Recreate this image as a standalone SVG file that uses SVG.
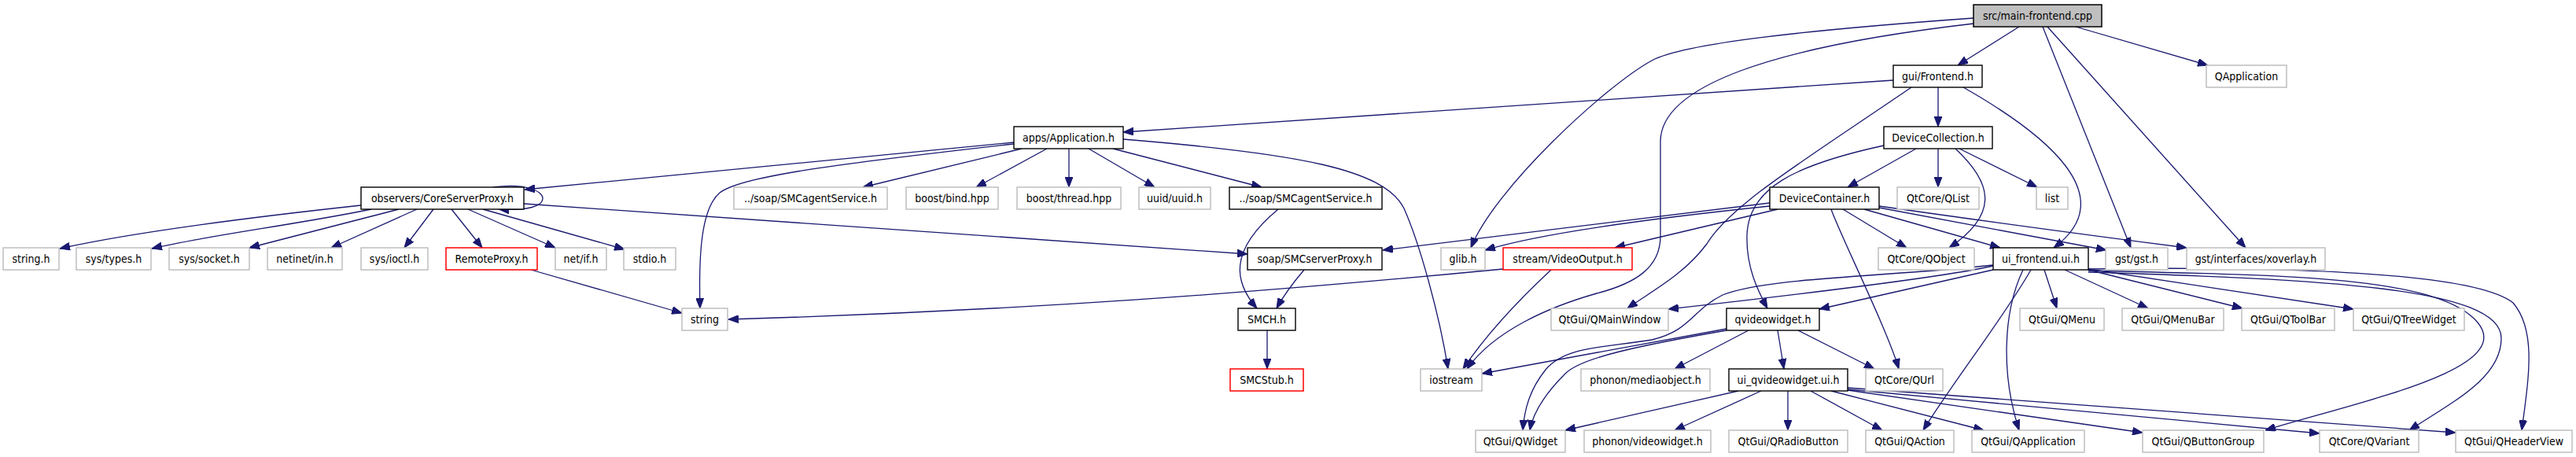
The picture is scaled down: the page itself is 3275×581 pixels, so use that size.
<svg xmlns="http://www.w3.org/2000/svg" width="3275" height="581" viewBox="0 0 3275 581">
<style>
rect{fill:#fff;stroke:#000;stroke-width:1.4}
.g rect{stroke:#bfbfbf;stroke-width:1.5}
.r rect{stroke:#ff0000;stroke-width:1.5}
.m rect{fill:#bfbfbf;stroke:#000;stroke-width:1.5}
text{font-family:"DejaVu Sans Condensed","Liberation Sans",Arial,sans-serif;font-size:14px;fill:#000;text-anchor:middle}
#edges path{fill:none;stroke:#191970;stroke-width:1.3;marker-end:url(#a)}
</style>
<defs>
<marker id="a" viewBox="0 0 13 10" refX="13" refY="5" markerWidth="13" markerHeight="10" markerUnits="userSpaceOnUse" orient="auto"><path d="M0,0 L13,5 L0,10 z" fill="#191970" stroke="#191970"/></marker>
</defs>
<rect x="0" y="0" width="3275" height="581" style="fill:#fff;stroke:none"/>
<g id="edges">
<path d="M2567,34 L2489,83"/>
<path d="M2639,34 L2807,83"/>
<path d="M2597,34 L2709,315"/>
<path d="M2603,34 L2855,315"/>
<path d="M2509,23 C2300,38 2140,55 2100,77 C2040,110 1900,240 1870,315"/>
<path d="M2509,30 C2250,60 2111,110 2111,180 L2111,300 C2111,340 2080,360 2030,373 C1970,390 1900,420 1865,469"/>
<path d="M2407,102 L1428,168"/>
<path d="M2464,111 L2464,161"/>
<path d="M2430,111 C2300,200 2200,260 2170,310 C2140,350 2100,370 2069,392"/>
<path d="M2496,111 C2600,170 2700,250 2611,315"/>
<path d="M2436,189 L2349,238"/>
<path d="M2464,189 L2464,238"/>
<path d="M2491,189 L2590,238"/>
<path d="M2486,189 C2530,230 2545,270 2478,315"/>
<path d="M2395,185 C2280,210 2222,240 2221,300 C2220,340 2235,370 2247,392"/>
<path d="M2250,258 L1758,318"/>
<path d="M2250,262 Q1980,290 1888,318"/>
<path d="M2260,266 L2053,315"/>
<path d="M2343,266 L2424,315"/>
<path d="M2328,266 C2340,300 2400,420 2414,469"/>
<path d="M2370,266 L2543,315"/>
<path d="M2389,264 L2678,318"/>
<path d="M2389,262 Q2600,292 2780,315"/>
<path d="M1911,342 C1600,372 1300,395 926,406"/>
<path d="M1972,343 Q1900,410 1860,469"/>
<path d="M459,261 C330,275 170,295 76,316"/>
<path d="M472,266 C380,285 260,300 193,316"/>
<path d="M507,266 L317,315"/>
<path d="M530,266 L421,315"/>
<path d="M551,266 L514,315"/>
<path d="M574,266 L613,315"/>
<path d="M595,266 L706,315"/>
<path d="M614,266 L794,317"/>
<path d="M627,238 C670,232 690,244 690,252 C690,262 672,268 634,266"/>
<path d="M666,259 L1586,323"/>
<path d="M1289,181 L667,241"/>
<path d="M1289,183 C1050,210 940,225 915,245 C892,265 888,320 890,392"/>
<path d="M1299,189 L1097,238"/>
<path d="M1331,189 L1241,238"/>
<path d="M1359,189 L1359,238"/>
<path d="M1384,189 L1468,238"/>
<path d="M1415,189 L1604,238"/>
<path d="M1428,177 C1650,195 1760,215 1785,265 C1805,310 1830,400 1841,469"/>
<path d="M1625,266 C1560,320 1570,360 1598,392"/>
<path d="M1658,343 Q1635,370 1623,392"/>
<path d="M1611,420 L1611,469"/>
<path d="M675,343 L867,398"/>
<path d="M2195,418 L1884,475"/>
<path d="M2195,420 C2080,440 2010,455 1990,475 C1960,505 1948,530 1945,547"/>
<path d="M2223,420 L2129,469"/>
<path d="M2260,420 L2268,469"/>
<path d="M2286,420 L2383,469"/>
<path d="M2534,338 Q2460,355 2121,393"/>
<path d="M2534,343 L2313,393"/>
<path d="M2534,337 C2400,352 2250,352 2190,375 C2150,395 2150,420 2100,432 C2040,442 1990,440 1965,470 C1945,495 1938,520 1936,547"/>
<path d="M2599,343 L2615,392"/>
<path d="M2625,343 L2731,392"/>
<path d="M2655,343 L2851,392"/>
<path d="M2655,342 L2992,393"/>
<path d="M2582,343 C2550,400 2480,490 2445,547"/>
<path d="M2572,343 C2545,400 2545,480 2567,547"/>
<path d="M2655,344 C2900,350 3100,350 3150,410 C3200,470 3000,510 2880,547"/>
<path d="M2655,346 C2950,355 3180,365 3180,430 C3180,480 3120,510 3063,547"/>
<path d="M2655,342 C2950,338 3150,350 3195,385 C3225,420 3215,480 3206,547"/>
<path d="M2210,497 L1990,547"/>
<path d="M2239,497 L2129,547"/>
<path d="M2273,497 L2273,547"/>
<path d="M2302,497 L2393,547"/>
<path d="M2328,497 L2522,547"/>
<path d="M2349,496 L2724,550"/>
<path d="M2349,495 L2949,551"/>
<path d="M2349,493 L3122,550"/>
</g>
<g id="n_main" class="m"><rect x="2509" y="6" width="163" height="28"/><text x="2590.5" y="25">src/main-frontend.cpp</text></g>
<g id="n_frontend"><rect x="2407" y="83" width="113" height="28"/><text x="2463.5" y="102">gui/Frontend.h</text></g>
<g id="n_qapplication" class="g"><rect x="2805" y="83" width="102" height="28"/><text x="2856" y="102">QApplication</text></g>
<g id="n_application"><rect x="1289" y="161" width="139" height="28"/><text x="1358.5" y="180">apps/Application.h</text></g>
<g id="n_devcollection"><rect x="2395" y="161" width="138" height="28"/><text x="2464" y="180">DeviceCollection.h</text></g>
<g id="n_coreserverproxy"><rect x="459" y="238" width="207" height="28"/><text x="562.5" y="257">observers/CoreServerProxy.h</text></g>
<g id="n_smcagent_g" class="g"><rect x="933" y="238" width="195" height="28"/><text x="1030.5" y="257">../soap/SMCagentService.h</text></g>
<g id="n_bind" class="g"><rect x="1152" y="238" width="117" height="28"/><text x="1210.5" y="257">boost/bind.hpp</text></g>
<g id="n_thread" class="g"><rect x="1293" y="238" width="132" height="28"/><text x="1359" y="257">boost/thread.hpp</text></g>
<g id="n_uuid" class="g"><rect x="1448" y="238" width="91" height="28"/><text x="1493.5" y="257">uuid/uuid.h</text></g>
<g id="n_smcagent"><rect x="1563" y="238" width="194" height="28"/><text x="1660" y="257">../soap/SMCagentService.h</text></g>
<g id="n_devcontainer"><rect x="2250" y="238" width="139" height="28"/><text x="2319.5" y="257">DeviceContainer.h</text></g>
<g id="n_qlist" class="g"><rect x="2412" y="238" width="104" height="28"/><text x="2464" y="257">QtCore/QList</text></g>
<g id="n_list" class="g"><rect x="2589" y="238" width="40" height="28"/><text x="2609" y="257">list</text></g>
<g id="n_stringh" class="g"><rect x="4" y="315" width="71" height="28"/><text x="39.5" y="334">string.h</text></g>
<g id="n_systypes" class="g"><rect x="97" y="315" width="95" height="28"/><text x="144.5" y="334">sys/types.h</text></g>
<g id="n_syssocket" class="g"><rect x="215" y="315" width="102" height="28"/><text x="266" y="334">sys/socket.h</text></g>
<g id="n_netinet" class="g"><rect x="340" y="315" width="95" height="28"/><text x="387.5" y="334">netinet/in.h</text></g>
<g id="n_sysioctl" class="g"><rect x="459" y="315" width="85" height="28"/><text x="501.5" y="334">sys/ioctl.h</text></g>
<g id="n_remoteproxy" class="r"><rect x="567" y="315" width="116" height="28"/><text x="625" y="334">RemoteProxy.h</text></g>
<g id="n_netif" class="g"><rect x="706" y="315" width="65" height="28"/><text x="738.5" y="334">net/if.h</text></g>
<g id="n_stdio" class="g"><rect x="793" y="315" width="66" height="28"/><text x="826" y="334">stdio.h</text></g>
<g id="n_smcserverproxy"><rect x="1586" y="315" width="171" height="28"/><text x="1671.5" y="334">soap/SMCserverProxy.h</text></g>
<g id="n_glib" class="g"><rect x="1832" y="315" width="56" height="28"/><text x="1860" y="334">glib.h</text></g>
<g id="n_videooutput" class="r"><rect x="1911" y="315" width="164" height="28"/><text x="1993" y="334">stream/VideoOutput.h</text></g>
<g id="n_qobject" class="g"><rect x="2388" y="315" width="122" height="28"/><text x="2449" y="334">QtCore/QObject</text></g>
<g id="n_uifrontend"><rect x="2534" y="315" width="121" height="28"/><text x="2594.5" y="334">ui_frontend.ui.h</text></g>
<g id="n_gst" class="g"><rect x="2677" y="315" width="79" height="28"/><text x="2716.5" y="334">gst/gst.h</text></g>
<g id="n_xoverlay" class="g"><rect x="2780" y="315" width="176" height="28"/><text x="2868" y="334">gst/interfaces/xoverlay.h</text></g>
<g id="n_string" class="g"><rect x="867" y="392" width="58" height="28"/><text x="896" y="411">string</text></g>
<g id="n_smch"><rect x="1574" y="392" width="73" height="28"/><text x="1610.5" y="411">SMCH.h</text></g>
<g id="n_qmainwindow" class="g"><rect x="1972" y="392" width="149" height="28"/><text x="2046.5" y="411">QtGui/QMainWindow</text></g>
<g id="n_qvideowidget"><rect x="2195" y="392" width="118" height="28"/><text x="2254" y="411">qvideowidget.h</text></g>
<g id="n_qmenu" class="g"><rect x="2568" y="392" width="107" height="28"/><text x="2621.5" y="411">QtGui/QMenu</text></g>
<g id="n_qmenubar" class="g"><rect x="2698" y="392" width="129" height="28"/><text x="2762.5" y="411">QtGui/QMenuBar</text></g>
<g id="n_qtoolbar" class="g"><rect x="2850" y="392" width="118" height="28"/><text x="2909" y="411">QtGui/QToolBar</text></g>
<g id="n_qtreewidget" class="g"><rect x="2992" y="392" width="141" height="28"/><text x="3062.5" y="411">QtGui/QTreeWidget</text></g>
<g id="n_smcstub" class="r"><rect x="1564" y="469" width="93" height="28"/><text x="1610.5" y="488">SMCStub.h</text></g>
<g id="n_iostream" class="g"><rect x="1806" y="469" width="78" height="28"/><text x="1845" y="488">iostream</text></g>
<g id="n_mediaobject" class="g"><rect x="2010" y="469" width="164" height="28"/><text x="2092" y="488">phonon/mediaobject.h</text></g>
<g id="n_uiqvideowidget"><rect x="2198" y="469" width="151" height="28"/><text x="2273.5" y="488">ui_qvideowidget.ui.h</text></g>
<g id="n_qurl" class="g"><rect x="2372" y="469" width="98" height="28"/><text x="2421" y="488">QtCore/QUrl</text></g>
<g id="n_qwidget" class="g"><rect x="1876" y="547" width="114" height="28"/><text x="1933" y="566">QtGui/QWidget</text></g>
<g id="n_videowidget" class="g"><rect x="2014" y="547" width="161" height="28"/><text x="2094.5" y="566">phonon/videowidget.h</text></g>
<g id="n_qradiobutton" class="g"><rect x="2198" y="547" width="151" height="28"/><text x="2273.5" y="566">QtGui/QRadioButton</text></g>
<g id="n_qaction" class="g"><rect x="2372" y="547" width="112" height="28"/><text x="2428" y="566">QtGui/QAction</text></g>
<g id="n_qtguiqapplication" class="g"><rect x="2507" y="547" width="143" height="28"/><text x="2578.5" y="566">QtGui/QApplication</text></g>
<g id="n_qbuttongroup" class="g"><rect x="2724" y="547" width="154" height="28"/><text x="2801" y="566">QtGui/QButtonGroup</text></g>
<g id="n_qvariant" class="g"><rect x="2949" y="547" width="126" height="28"/><text x="3012" y="566">QtCore/QVariant</text></g>
<g id="n_qheaderview" class="g"><rect x="3122" y="547" width="148" height="28"/><text x="3196" y="566">QtGui/QHeaderView</text></g>
</svg>
